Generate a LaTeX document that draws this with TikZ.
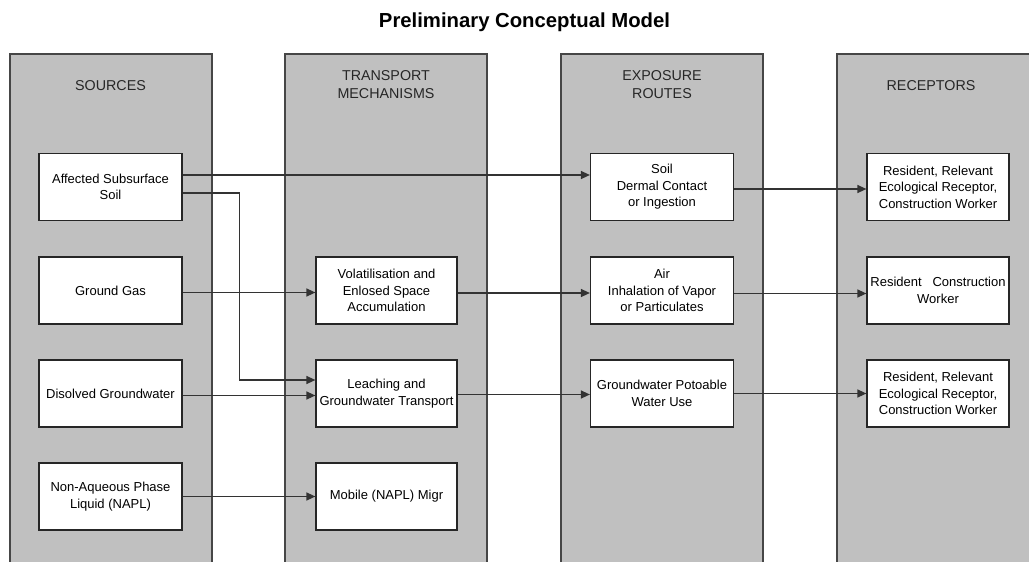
\documentclass[tikz,border=0pt]{standalone}
\usepackage{fontspec}
\setmainfont{Liberation Sans}
\usetikzlibrary{arrows.meta}
\definecolor{panelgray}{RGB}{192,192,192}
\definecolor{edgegray}{RGB}{70,70,70}

\tikzset{
  box/.style={draw=black!85, fill=white, line width=1.2pt, minimum width=143pt,
    minimum height=67pt, inner sep=1pt, align=center,
    font=\fontsize{13}{16.5}\selectfont},
  head/.style={align=center, text=black!85, font=\fontsize{14.3}{18}\selectfont},
  arr/.style={line width=1.3pt, draw=black!80, -{Triangle[length=9pt,width=8pt]}},
}

\begin{document}
\begin{tikzpicture}[x=1pt,y=-1pt]
    \useasboundingbox (0,0) rectangle (1029,562);
    \begin{scope}
      \clip (0,0) rectangle (1029,562);
      \foreach \x in {10,285,561,837}{
        \fill[panelgray] (\x,54) rectangle (\x+202,562);
        \draw[edgegray,line width=1.3pt] (\x,562) |- (\x+202,54) -- (\x+202,562);
      }
    \end{scope}

    \node[font=\bfseries\fontsize{20.3}{24}\selectfont] (title) at (524.5,22) {Preliminary Conceptual Model};

    \node[head] (hsrc) at (110.5,85.5) {SOURCES};
    \node[head] (htrans) at (386,84.5) {TRANSPORT\\MECHANISMS};
    \node[head] (hexpo) at (662,84.5) {EXPOSURE\\ROUTES};
    \node[head] (hrec) at (931,85.5) {RECEPTORS};

    \node[box] (aff) at (110.5,187) {Affected Subsurface\\Soil};
    \node[box] (gas) at (110.5,290.5) {Ground Gas};
    \node[box] (dis) at (110.5,393.5) {Disolved Groundwater};
    \node[box] (napl) at (110.5,496.5) {Non-Aqueous Phase\\Liquid (NAPL)};

    \node[box,minimum width=141pt] (vol) at (386.5,290.5) {Volatilisation and\\Enlosed Space\\Accumulation};
    \node[box,minimum width=141pt] (leach) at (386.5,393.5) {Leaching and\\Groundwater Transport};
    \node[box,minimum width=141pt] (mob) at (386.5,496.5) {Mobile (NAPL) Migr};

    \node[box] (soil) at (662,187) {Soil\\Dermal Contact\\or Ingestion};
    \node[box] (air) at (662,290.5) {Air\\Inhalation of Vapor\\or Particulates};
    \node[box] (gw) at (662,393.5) {Groundwater Potoable\\Water Use};

    \node[box,minimum width=142pt] (rec1) at (938,187) {Resident, Relevant\\Ecological Receptor,\\Construction Worker};
    \node[box,minimum width=142pt] (rec2) at (938,290.5) {Resident~~~Construction\\Worker};
    \node[box,minimum width=142pt] (rec3) at (938,393.5) {Resident, Relevant\\Ecological Receptor,\\Construction Worker};

    \draw[arr] ([yshift=12pt]aff.east) -- ([yshift=12pt]soil.west);
    \draw[arr] ([yshift=-6pt]aff.east) -- ++(57,0) |- ([yshift=13.5pt]leach.west);
    \draw[arr] ([yshift=-2pt]gas.east) -- ([yshift=-2pt]vol.west);
    \draw[arr] ([yshift=-2pt]dis.east) -- ([yshift=-2pt]leach.west);
    \draw[arr] (napl.east) -- (mob.west);

    \draw[arr] ([yshift=-2.5pt]vol.east) -- ([yshift=-2.5pt]air.west);
    \draw[arr] ([yshift=-1pt]leach.east) -- ([yshift=-1pt]gw.west);

    \draw[arr] ([yshift=-2pt]soil.east) -- ([yshift=-2pt]rec1.west);
    \draw[arr] ([yshift=-3pt]air.east) -- ([yshift=-3pt]rec2.west);
    \draw[arr] (gw.east) -- (rec3.west);
\end{tikzpicture}
\end{document}
